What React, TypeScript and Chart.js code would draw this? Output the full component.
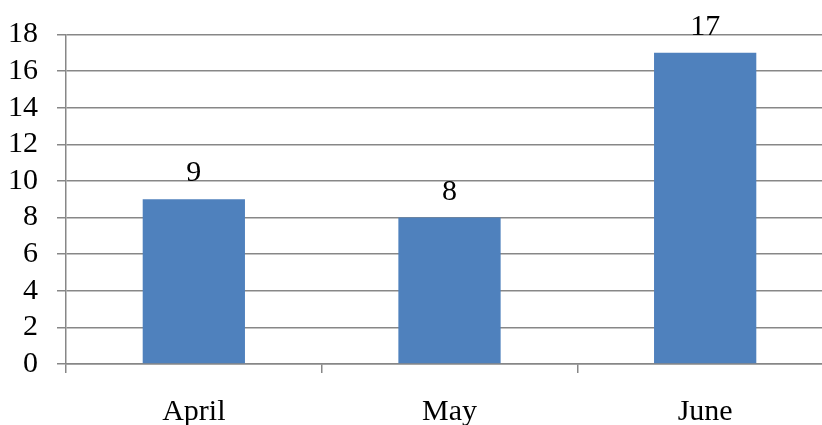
import React, { useEffect, useRef } from "react";
import { Chart, registerables } from "chart.js";

Chart.register(...registerables);

const categories = ["April", "May", "June"];
const values = [9, 8, 17];
const yMin = 0;
const yMax = 18;
const yStep = 2;

const FONT = "'Liberation Serif', 'Times New Roman', serif";
const GRID = "#878787";

const dataLabels = {
  id: "dataLabels",
  afterDatasetsDraw(chart: any) {
    const ctx = chart.ctx;
    const meta = chart.getDatasetMeta(0);
    ctx.save();
    ctx.font = `30px ${FONT}`;
    ctx.fillStyle = "#000";
    ctx.textAlign = "center";
    ctx.textBaseline = "alphabetic";
    meta.data.forEach((bar: any, i: number) => {
      ctx.fillText(String(chart.data.datasets[0].data[i]), bar.x, bar.y - 18);
    });
    ctx.restore();
  },
};

export default function App() {
  const ref = useRef<HTMLCanvasElement>(null);
  useEffect(() => {
    if (!ref.current) return;
    const chart = new Chart(ref.current, {
      type: "bar",
      data: {
        labels: categories,
        datasets: [
          {
            data: values,
            backgroundColor: "#4F81BD",
            borderWidth: 0,
            categoryPercentage: 1,
            barPercentage: 0.4,
          },
        ],
      },
      options: {
        responsive: false,
        animation: false,
        layout: { padding: { top: 34.5, left: 0, right: 0, bottom: 0 } },
        plugins: { legend: { display: false }, tooltip: { enabled: false } },
        scales: {
          x: {
            grid: {
              display: true,
              drawOnChartArea: false,
              drawTicks: true,
              tickLength: 9,
              offset: true,
              color: GRID,
              lineWidth: 1.5,
            },
            border: { display: true, color: GRID, width: 1.5 },
            ticks: {
              font: { family: FONT, size: 30 },
              color: "#000",
              padding: 21,
              maxRotation: 0,
              autoSkip: false,
            },
            afterFit: (s: any) => {
              s.height = 61;
              s.paddingLeft = 0;
              s.paddingRight = 0;
            },
          },
          y: {
            min: yMin,
            max: yMax,
            grid: {
              color: GRID,
              lineWidth: 1.5,
              tickLength: 9,
              drawTicks: true,
            },
            border: { display: true, color: GRID, width: 1.5 },
            ticks: {
              stepSize: yStep,
              autoSkip: false,
              font: { family: FONT, size: 30 },
              color: "#000",
              padding: 19,
            },
            afterFit: (s: any) => {
              s.width = 66;
              s.paddingTop = 0;
              s.paddingBottom = 0;
            },
          },
        },
      },
      plugins: [dataLabels],
    });
    return () => chart.destroy();
  }, []);
  return (
    <div
      style={{
        position: "absolute",
        left: 0,
        top: 0,
        width: 822,
        height: 425,
        overflow: "hidden",
        background: "#fff",
      }}
    >
      <canvas ref={ref} width={833} height={425} style={{ display: "block" }} />
    </div>
  );
}
